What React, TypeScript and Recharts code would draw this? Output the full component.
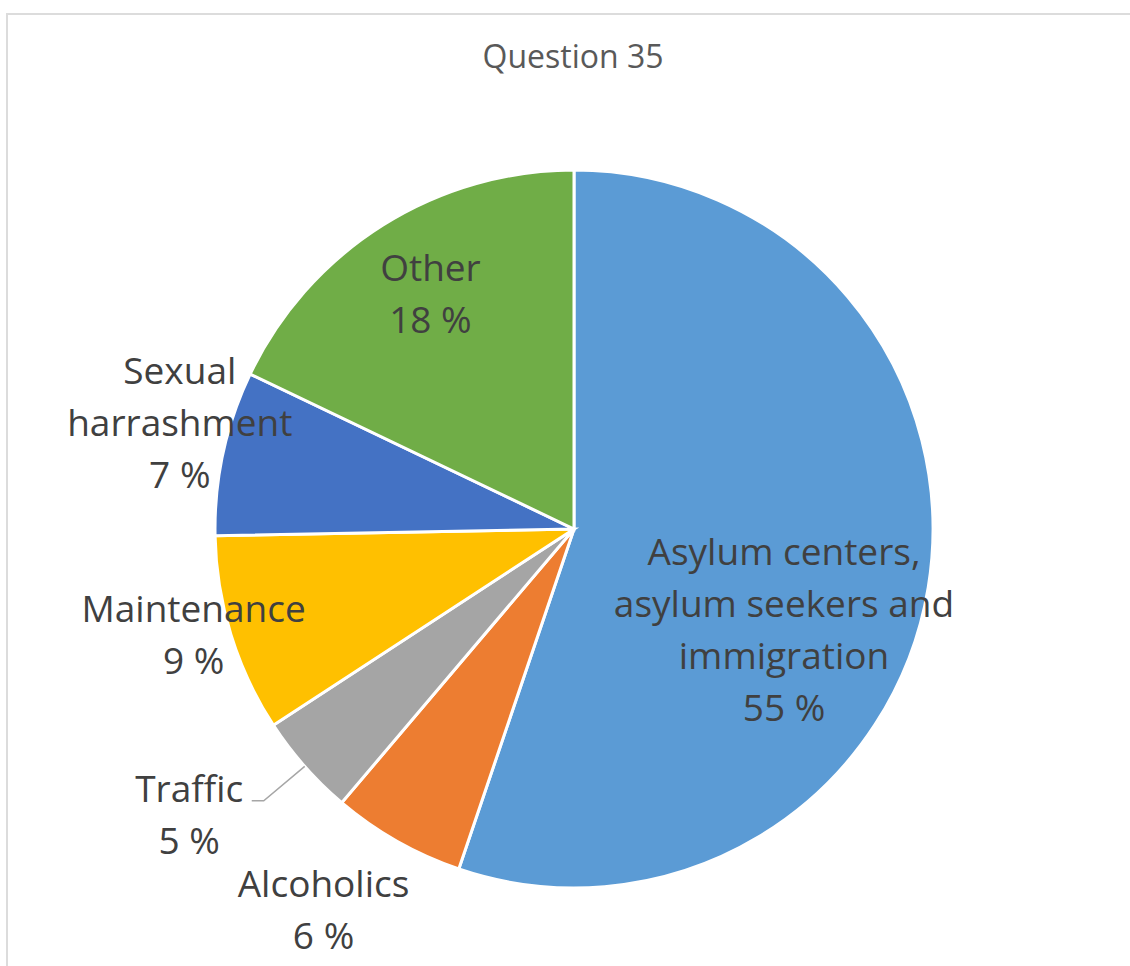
import React from 'react';
import { PieChart, Pie, Cell } from 'recharts';

const categories = [
  'Asylum centers, asylum seekers and immigration',
  'Alcoholics',
  'Traffic',
  'Maintenance',
  'Sexual harrashment',
  'Other',
];
const labelLines = [
  ['Asylum centers,', 'asylum seekers and', 'immigration'],
  ['Alcoholics'],
  ['Traffic'],
  ['Maintenance'],
  ['Sexual', 'harrashment'],
  ['Other'],
];
const shares = [55.2, 6.0, 4.6, 8.9, 7.4, 17.9];
const colors = ['#5B9BD5', '#ED7D31', '#A5A5A5', '#FFC000', '#4472C4', '#70AD47'];
const title = 'Question 35';

// label placement: radius factor (of outer radius) and angle offset from slice mid-angle (deg, clockwise)
const LABEL_LAYOUT = [
  { r: 0.649, dA: 16.3, leader: false },
  { r: 1.27, dA: 3.8, leader: false },
  { r: 1.335, dA: 4.8, leader: true },
  { r: 1.1, dA: 1.5, leader: false },
  { r: 1.137, dA: 2.8, leader: false },
  { r: 0.767, dA: 0.8, leader: false },
];

const data = categories.map((name, i) => ({ name, value: shares[i] }));

const FONT = '"Open Sans", Lato, sans-serif';
const LINE_H = 52;
const CAP_HALF = 13;
const RAD = Math.PI / 180;

const renderLabel = (props: any) => {
  const { cx, cy, midAngle, outerRadius, index, value } = props;
  const layout = LABEL_LAYOUT[index];
  const theta = 90 - midAngle; // clockwise from top
  const t = (theta + layout.dA) * RAD;
  const x = cx + outerRadius * layout.r * Math.sin(t);
  const y = cy - outerRadius * layout.r * Math.cos(t);
  const lines = [...labelLines[index], `${Math.round(value)} %`];
  const n = lines.length;
  const firstCenter = y - ((n - 1) / 2) * LINE_H;
  const tm = theta * RAD;
  const ox = cx + outerRadius * Math.sin(tm);
  const oy = cy - outerRadius * Math.cos(tm);
  return (
    <g key={`lbl-${index}`}>
      {layout.leader && (
        <polyline
          points={`${ox},${oy} ${x + 74.5},${firstCenter + 12} ${x + 62.5},${firstCenter + 12}`}
          fill="none"
          stroke="#A6A6A6"
          strokeWidth={1.5}
        />
      )}
      <text textAnchor="middle" fill="#404040" fontFamily={FONT} fontSize={37}>
        {lines.map((ln, i) => (
          <tspan key={i} x={x} y={firstCenter + CAP_HALF + i * LINE_H}>
            {ln}
          </tspan>
        ))}
      </text>
    </g>
  );
};

export default function App() {
  return (
    <div
      style={{
        position: 'absolute',
        left: 0,
        top: 0,
        width: 1130,
        height: 966,
        overflow: 'hidden',
        background: '#fff',
      }}
    >
      <div
        style={{
          position: 'absolute',
          left: 6,
          top: 13,
          width: 1300,
          height: 1200,
          border: '2px solid #DCDCDC',
          boxSizing: 'border-box',
        }}
      />
      <div style={{ position: 'absolute', left: 0, top: 0 }}>
        <PieChart width={1130} height={966} margin={{ top: 0, right: 0, bottom: 0, left: 0 }}>
          <Pie
            data={data}
            dataKey="value"
            nameKey="name"
            cx={574}
            cy={529}
            outerRadius={359}
            startAngle={90}
            endAngle={-270}
            stroke="#FFFFFF"
            strokeWidth={3}
            label={renderLabel}
            labelLine={false}
            isAnimationActive={false}
          >
            {data.map((d, i) => (
              <Cell key={d.name} fill={colors[i]} />
            ))}
          </Pie>
        </PieChart>
      </div>
      <svg
        width={1130}
        height={966}
        style={{ position: 'absolute', left: 0, top: 0, pointerEvents: 'none' }}
      >
        <text x={573} y={68} textAnchor="middle" fill="#595959" fontFamily={FONT} fontSize={32}>
          {title}
        </text>
      </svg>
    </div>
  );
}
